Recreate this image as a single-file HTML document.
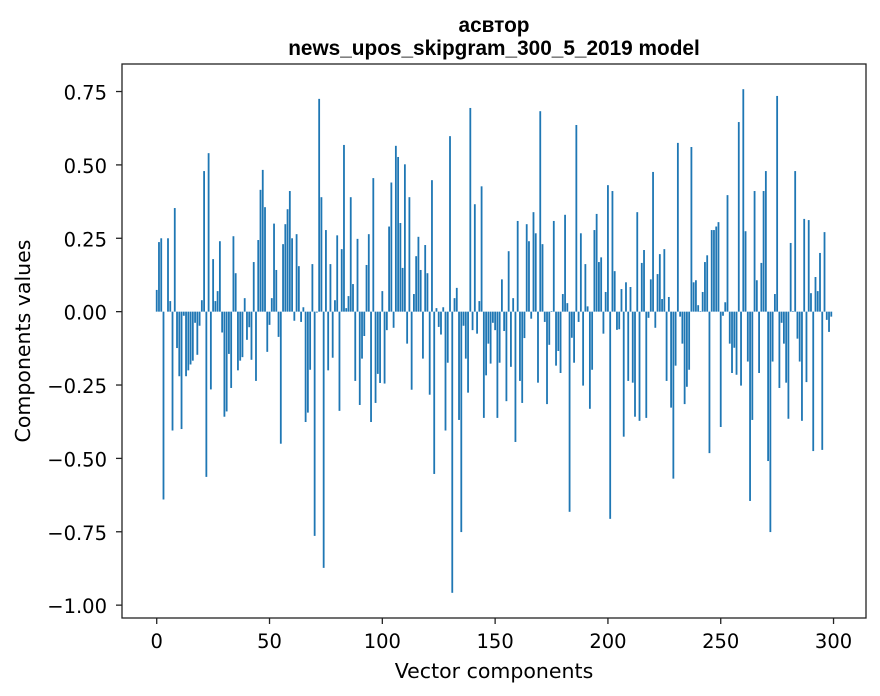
<!DOCTYPE html>
<html><head><meta charset="utf-8"><style>
body{margin:0;background:#fff;}
svg{display:block;font-family:"DejaVu Sans","Liberation Sans",sans-serif;}
</style></head><body>
<svg id="chart" width="880" height="696" viewBox="0 0 880 696" xmlns="http://www.w3.org/2000/svg">
<rect width="880" height="696" fill="#fff"/>
<text x="494" y="32" text-anchor="middle" font-size="20.8" font-weight="bold" font-family="Liberation Sans, sans-serif">асвтор</text>
<text x="494" y="55" text-anchor="middle" font-size="20.8" font-weight="bold" font-family="Liberation Sans, sans-serif">news_upos_skipgram_300_5_2019 model</text>
<g id="bars"></g>
<g id="axes"></g>
<text x="494" y="678" text-anchor="middle" font-size="20.5">Vector components</text>
<text transform="translate(30,341) rotate(-90)" text-anchor="middle" font-size="20.5">Components values</text>
</svg>
<script>
const values = [
0.074,0.237,0.25,-0.64,0,0.25,0.036,-0.405,0.353,-0.124,
-0.22,-0.40,-0.014,-0.22,-0.20,-0.18,-0.167,-0.038,-0.147,-0.048,
0.039,0.479,-0.563,0.54,-0.265,0.179,0.036,0.07,0.24,-0.071,
-0.358,-0.34,-0.144,-0.26,0.257,0.131,-0.20,-0.167,-0.155,0.046,
-0.096,-0.053,-0.164,0.169,-0.236,0.244,0.415,0.483,0.356,-0.137,
-0.045,0.046,0.30,0.142,-0.086,-0.45,0.23,0.298,0.349,0.411,
0.25,-0.031,0.264,0.155,-0.035,0.015,-0.376,-0.344,-0.198,0.162,
-0.764,-0.003,0.725,0.39,-0.873,0.278,-0.2,0.162,-0.157,0.039,
0.26,-0.338,0.213,0.568,0.012,0.053,0.39,0.094,-0.236,0.248,
-0.318,-0.16,-0.083,0.159,0.264,-0.376,0.455,-0.311,-0.212,-0.243,
0.07,-0.245,-0.063,0.29,0.44,-0.055,0.565,0.527,0.302,0.149,
0.502,-0.109,0.39,-0.266,0.06,0.189,0.255,0.142,-0.16,0.227,
0.131,-0.283,0.448,-0.553,0.012,-0.052,-0.078,0.015,-0.405,-0.174,
0.598,-0.958,0.046,0.081,-0.369,-0.751,-0.048,-0.16,-0.276,0.694,
-0.063,0.366,-0.075,0.036,0.427,-0.362,-0.217,-0.109,-0.177,-0.038,
-0.063,-0.362,-0.174,0.11,-0.066,-0.305,0.206,-0.188,0.046,-0.444,
0.309,-0.236,-0.311,-0.09,0.298,0.24,-0.024,0.339,0.267,-0.242,
0.683,0.23,-0.035,-0.315,-0.113,0.002,0.309,-0.184,-0.134,-0.209,
0.06,0.33,0.029,-0.682,-0.089,-0.174,0.636,-0.035,0.267,-0.252,
0.162,0.018,-0.331,-0.198,0.278,0.333,0.169,0.185,-0.075,0.067,
0.431,-0.706,0.411,0.138,-0.062,-0.06,0.077,-0.426,0.1,-0.236,
0.084,-0.242,-0.358,0.339,-0.372,0.166,0.21,-0.362,-0.021,0.11,
0.476,-0.055,0.128,0.196,0.043,0.213,-0.236,0.05,-0.327,-0.569,
-0.184,0.575,-0.017,-0.109,-0.315,-0.256,-0.198,0.561,0.1,0.107,
0.022,0.002,0.067,0.169,0.192,-0.482,0.278,0.278,0.29,0.305,
-0.393,-0.014,0.032,0.397,-0.109,-0.209,-0.123,-0.215,0.646,-0.252,
0.758,0.274,-0.17,-0.645,-0.369,0.411,0.107,-0.209,0.166,0.411,
0.479,-0.509,-0.751,-0.17,0.06,0.735,-0.26,-0.038,-0.109,-0.242,
-0.365,0.234,0.002,0.479,-0.092,-0.17,-0.372,0.316,-0.24,0.312,
0.063,-0.475,0.118,0.07,0.2,-0.471,0.271,-0.028,-0.069,-0.017
];
const xTicks = [0,50,100,150,200,250,300];
const yTicks = [0.75,0.5,0.25,0,-0.25,-0.5,-0.75,-1.0];
const yTickLabels = ["0.75","0.50","0.25","0.00","\u22120.25","\u22120.50","\u22120.75","\u22121.00"];

const NS="http://www.w3.org/2000/svg";
const L=122,R=866,T=64,B=618;
const n=values.length;
const xmin=-0.4-0.05*(n-0.2), xmax=(n-1+0.4)+0.05*(n-0.2);
const vmax=Math.max(...values), vmin=Math.min(...values,0);
const ymin=vmin-0.05*(vmax-vmin), ymax=vmax+0.05*(vmax-vmin);
const xs=v=>L+(v-xmin)/(xmax-xmin)*(R-L);
const ys=v=>B-(v-ymin)/(ymax-ymin)*(B-T);
const bars=document.getElementById('bars');
values.forEach((v,i)=>{
  const r=document.createElementNS(NS,'rect');
  const x0=xs(i-0.4), x1=xs(i+0.4);
  const y0=ys(Math.max(v,0)), y1=ys(Math.min(v,0));
  r.setAttribute('x',x0);r.setAttribute('width',x1-x0);
  r.setAttribute('y',y0);r.setAttribute('height',Math.max(y1-y0,0.01));
  r.setAttribute('fill','#1f77b4');
  
  
  bars.appendChild(r);
});
const axes=document.getElementById('axes');
const frame=document.createElementNS(NS,'rect');
frame.setAttribute('x',L);frame.setAttribute('y',T);frame.setAttribute('width',R-L);frame.setAttribute('height',B-T);
frame.setAttribute('fill','none');frame.setAttribute('stroke','#222');frame.setAttribute('stroke-width','1.3');


axes.appendChild(frame);
xTicks.forEach(t=>{
  const x=xs(t);
  const ln=document.createElementNS(NS,'line');
  ln.setAttribute('x1',x);ln.setAttribute('x2',x);ln.setAttribute('y1',B);ln.setAttribute('y2',B+6);
  ln.setAttribute('stroke','#222');ln.setAttribute('stroke-width','1.3');
  
  
  axes.appendChild(ln);
  const tx=document.createElementNS(NS,'text');
  tx.setAttribute('x',x);tx.setAttribute('y',B+30);tx.setAttribute('text-anchor','middle');tx.setAttribute('font-size','19.5');
  tx.textContent=t;
  
  
  axes.appendChild(tx);
});
yTicks.forEach((t,k)=>{
  const y=ys(t);
  const ln=document.createElementNS(NS,'line');
  ln.setAttribute('x1',L-6);ln.setAttribute('x2',L);ln.setAttribute('y1',y);ln.setAttribute('y2',y);
  ln.setAttribute('stroke','#222');ln.setAttribute('stroke-width','1.3');
  
  
  axes.appendChild(ln);
  const tx=document.createElementNS(NS,'text');
  tx.setAttribute('x',L-15);tx.setAttribute('y',y+8);tx.setAttribute('text-anchor','end');tx.setAttribute('font-size','19.5');
  tx.textContent=yTickLabels[k];
  
  
  axes.appendChild(tx);
});
</script>
</body></html>
